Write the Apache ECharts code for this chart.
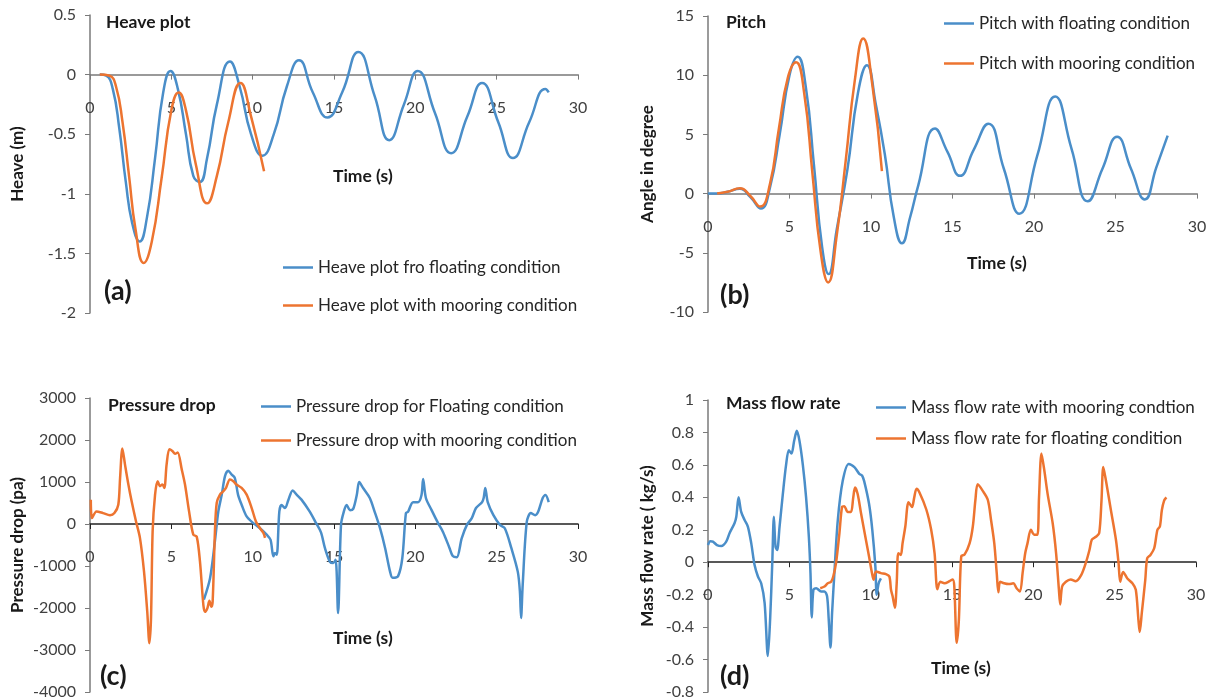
<!DOCTYPE html>
<html>
<head>
<meta charset="utf-8">
<script src="https://cdn.jsdelivr.net/npm/echarts@6/dist/echarts.min.js"></script>
<style>
  html, body { margin: 0; padding: 0; background: #fff; }
  #chart { width: 1215px; height: 700px; }
</style>
</head>
<body>
<div id="chart"></div>
<script>
// time axis ticks shared by all four panels
var timeTicks = [0, 5, 10, 15, 20, 25, 30]

// (a) heave, [time s, heave m]
var heaveFloating = [[0.6, 0], [1.0, -0.01], [1.4, -0.12], [1.8, -0.45], [2.2, -0.9], [2.6, -1.25], [3.05, -1.4],
  [3.5, -1.2], [4.0, -0.7], [4.5, -0.15], [4.95, 0.03], [5.4, -0.12], [5.9, -0.5], [6.35, -0.85], [6.75, -0.9],
  [7.2, -0.7], [7.8, -0.25], [8.6, 0.11], [9.2, -0.1], [9.9, -0.5], [10.6, -0.68], [11.3, -0.5], [12.1, -0.1],
  [12.85, 0.12], [13.7, -0.15], [14.6, -0.36], [15.5, -0.15], [16.5, 0.19], [17.5, -0.18], [18.4, -0.55],
  [19.3, -0.25], [20.15, 0.03], [21.2, -0.32], [22.2, -0.66], [23.2, -0.35], [24.1, -0.07], [25.1, -0.4],
  [26.0, -0.7], [27.0, -0.4], [28.0, -0.12], [28.2, -0.15]]
var heaveMooring = [[0.6, 0], [1.2, -0.01], [1.6, -0.1], [2.0, -0.4], [2.4, -0.85], [2.8, -1.3], [3.3, -1.58],
  [3.8, -1.4], [4.4, -0.87], [5.0, -0.3], [5.45, -0.15], [5.9, -0.3], [6.5, -0.75], [7.2, -1.08], [7.8, -0.85],
  [8.5, -0.4], [9.25, -0.07], [9.9, -0.35], [10.7, -0.81]]

// (b) pitch, [time s, angle deg]
var pitchFloating = [[0, 0], [0.55, 0], [1.2, 0.15], [1.96, 0.4], [2.6, -0.3], [3.25, -1.26], [3.8, 0.5],
  [4.4, 5], [5.0, 10], [5.5, 11.55], [6.0, 9], [6.5, 2.4], [7.0, -4.5], [7.4, -6.8], [7.9, -3], [8.55, 2],
  [9.2, 8.5], [9.75, 10.85], [10.3, 7.5], [10.85, 3.3], [11.4, -2], [11.9, -4.2], [12.4, -2], [12.9, 0.7],
  [13.93, 5.5], [14.7, 3.5], [15.46, 1.5], [16.3, 3.7], [17.2, 5.9], [18.15, 2.1], [19.1, -1.7], [20.2, 3.2],
  [21.3, 8.2], [22.3, 3.8], [23.3, -0.65], [24.2, 2.1], [25.1, 4.8], [25.95, 2.1], [26.8, -0.5], [27.5, 2.2],
  [28.2, 4.9]]
var pitchMooring = [[0.56, 0], [1.2, 0.15], [1.96, 0.45], [2.6, -0.2], [3.2, -1.1], [3.8, 0.8], [4.35, 5.5],
  [4.9, 9.8], [5.4, 11.1], [5.9, 8.5], [6.4, 1.8], [6.9, -4.8], [7.37, -7.5], [7.9, -3.5], [8.45, 2.8],
  [9.0, 9.5], [9.52, 13.1], [10.1, 9.0], [10.67, 1.9]]

// (c) pressure drop, [time s, pa]
var pressureFloating = [[7.0, -1800], [7.38, -1290], [7.68, -410], [7.89, 300], [8.1, 700], [8.3, 1140],
  [8.5, 1270], [8.7, 1180], [8.9, 1100], [9.1, 700], [9.32, 460], [9.63, 180], [10.04, 20], [10.45, -100],
  [10.86, -255], [11.1, -375], [11.27, -770], [11.37, -690], [11.48, -730], [11.64, 300], [11.78, 450],
  [11.99, 380], [12.2, 580], [12.46, 800], [12.7, 700], [13.0, 580], [13.5, 300], [13.9, 20], [14.2, -200],
  [14.44, -570], [14.75, -900], [14.95, -930], [15.1, -850], [15.25, -2120], [15.43, -20], [15.6, 290],
  [15.78, 450], [15.98, 330], [16.18, 360], [16.4, 690], [16.55, 1000], [16.8, 850], [17.2, 620], [17.5, 290],
  [17.83, -100], [18.14, -570], [18.45, -1140], [18.6, -1280], [18.94, -1240], [19.2, -810], [19.42, 260],
  [19.55, 290], [19.86, 520], [20.17, 520], [20.38, 690], [20.48, 1070], [20.65, 620], [21.0, 330],
  [21.4, 20], [21.7, -190], [22.1, -570], [22.3, -760], [22.55, -790], [22.85, -340], [23.17, -20],
  [23.47, 140], [23.73, 380], [24.1, 520], [24.2, 620], [24.3, 860], [24.45, 520], [24.8, 210], [25.2, -20],
  [25.5, -100], [25.9, -570], [26.3, -1140], [26.43, -1620], [26.5, -2240], [26.6, -1450], [26.85, 50],
  [27.1, 260], [27.37, 210], [27.55, 290], [27.83, 620], [28.0, 690], [28.2, 520]]
var pressureMooring = [[0.05, 580], [0.12, 140], [0.4, 300], [0.8, 260], [1.23, 210], [1.5, 260], [1.74, 460],
  [1.85, 1100], [1.99, 1800], [2.15, 1420], [2.36, 940], [2.56, 540], [2.83, 60], [3.07, -330], [3.32, -1130],
  [3.52, -2090], [3.65, -2840], [3.75, -2250], [3.85, -180], [4.0, 700], [4.16, 1020], [4.3, 900], [4.45, 940],
  [4.57, 860], [4.71, 1420], [4.88, 1780], [5.06, 1740], [5.23, 1670], [5.39, 1700], [5.64, 1300],
  [5.84, 940], [6.09, 300], [6.35, -255], [6.56, -300], [6.76, -890], [6.97, -1930], [7.07, -2090],
  [7.21, -2010], [7.34, -1830], [7.46, -1970], [7.54, -1850], [7.68, -180], [7.79, 500], [7.99, 700],
  [8.2, 780], [8.36, 860], [8.6, 1060], [8.81, 1020], [9.0, 940], [9.32, 860], [9.63, 700], [9.94, 380],
  [10.2, 60], [10.45, -100], [10.66, -215], [10.76, -330]]

// (d) mass flow rate, [time s, kg/s]
var massMooring = [[0, 0.106], [0.14, 0.13], [0.3, 0.127], [0.55, 0.106], [0.82, 0.1], [1.12, 0.127],
  [1.33, 0.18], [1.63, 0.24], [1.74, 0.28], [1.88, 0.40], [2.04, 0.31], [2.25, 0.26], [2.45, 0.22],
  [2.66, 0.116], [2.86, -0.016], [3.07, -0.088], [3.27, -0.13], [3.48, -0.25], [3.68, -0.578], [3.82, -0.35],
  [3.95, -0.006], [4.05, 0.28], [4.15, 0.096], [4.25, 0.075], [4.4, 0.22], [4.6, 0.42], [4.8, 0.6],
  [4.97, 0.69], [5.13, 0.67], [5.3, 0.75], [5.46, 0.81], [5.62, 0.75], [5.83, 0.6], [6.03, 0.40],
  [6.2, 0.157], [6.3, -0.067], [6.38, -0.34], [6.48, -0.17], [6.65, -0.16], [6.95, -0.18], [7.16, -0.18],
  [7.32, -0.21], [7.42, -0.35], [7.53, -0.526], [7.63, -0.31], [7.77, -0.067], [7.98, 0.26], [8.28, 0.50],
  [8.65, 0.606], [9.0, 0.586], [9.3, 0.545], [9.47, 0.535], [9.6, 0.50], [9.9, 0.36], [10.1, 0.2],
  [10.29, -0.027], [10.37, -0.2], [10.49, -0.13], [10.63, -0.1]]
var massFloating = [[6.9, -0.16], [7.16, -0.15], [7.36, -0.13], [7.57, -0.12], [7.7, -0.088], [7.87, -0.006],
  [8.08, 0.18], [8.24, 0.34], [8.38, 0.345], [8.59, 0.31], [8.79, 0.31], [8.93, 0.40], [9.04, 0.46],
  [9.2, 0.42], [9.41, 0.30], [9.71, 0.137], [9.9, 0.035], [10.08, -0.067], [10.18, -0.108], [10.33, -0.057],
  [10.63, -0.067], [10.94, -0.073], [11.15, -0.088], [11.25, -0.17], [11.35, -0.21], [11.49, -0.28],
  [11.6, -0.13], [11.7, 0.055], [11.85, 0.045], [11.96, 0.116], [12.13, 0.22], [12.33, 0.37], [12.54, 0.34],
  [12.68, 0.40], [12.82, 0.453], [13.0, 0.43], [13.42, 0.325], [13.72, 0.20], [13.93, 0.055], [14.1, -0.166],
  [14.28, -0.12], [14.54, -0.13], [14.85, -0.117], [15.04, -0.106], [15.14, -0.147], [15.29, -0.497],
  [15.42, -0.36], [15.57, 0.037], [15.77, 0.047], [16.08, 0.116], [16.28, 0.22], [16.44, 0.385], [16.58, 0.48],
  [16.89, 0.44], [17.2, 0.385], [17.4, 0.26], [17.6, 0.116], [17.75, -0.067], [17.85, -0.185], [17.96, -0.12],
  [18.2, -0.13], [18.5, -0.135], [18.77, -0.13], [18.97, -0.16], [19.18, -0.18], [19.34, -0.067], [19.5, 0.055],
  [19.64, 0.116], [19.85, 0.2], [20.05, 0.17], [20.25, 0.17], [20.35, 0.40], [20.5, 0.67], [20.67, 0.57],
  [20.88, 0.42], [21.19, 0.24], [21.4, 0.055], [21.57, -0.166], [21.65, -0.26], [21.77, -0.15], [22.0, -0.12],
  [22.3, -0.106], [22.6, -0.117], [22.94, -0.08], [23.24, 0.0], [23.45, 0.075], [23.6, 0.14], [23.85, 0.157],
  [24.05, 0.18], [24.19, 0.38], [24.3, 0.587], [24.46, 0.505], [24.77, 0.32], [25.08, 0.137], [25.24, -0.006],
  [25.34, -0.12], [25.52, -0.06], [25.78, -0.1], [26.09, -0.13], [26.3, -0.17], [26.46, -0.355], [26.54, -0.43],
  [26.67, -0.31], [26.88, -0.11], [27.0, 0.025], [27.2, 0.045], [27.43, 0.086], [27.63, 0.2], [27.78, 0.22],
  [27.9, 0.32], [28.04, 0.38], [28.18, 0.40]]

var blue = '#4a8ec9'
var orange = '#ed7430'
var font = 'Lato'

var grids = [
  { left: 90, top: 15, width: 488, height: 298 },
  { left: 708, top: 16, width: 489, height: 296 },
  { left: 90, top: 398, width: 488, height: 294 },
  { left: 708, top: 400, width: 488, height: 292 }
]

var yRanges = [
  { min: -2, max: 0.5, interval: 0.5, name: 'Heave (m)', gap: 64 },
  { min: -10, max: 15, interval: 5, name: 'Angle in degree', gap: 52 },
  { min: -4000, max: 3000, interval: 1000, name: 'Pressure drop (pa)', gap: 64 },
  { min: -0.8, max: 1, interval: 0.2, name: 'Mass flow rate ( kg/s)', gap: 52 }
]

function plain (v) {
  return String(Math.round(v * 1000) / 1000)
}

function xAxis (i) {
  var r = yRanges[i]
  // lift the time axis from the grid bottom up to y = 0, labels included
  var lift = -grids[i].height * (0 - r.min) / (r.max - r.min)
  return {
    type: 'value',
    gridIndex: i,
    min: timeTicks[0],
    max: timeTicks[timeTicks.length - 1],
    interval: 5,
    offset: lift,
    axisLine: { onZero: false, lineStyle: { color: i < 2 ? '#7a7a7a' : '#222', width: 1.5 } },
    axisTick: { show: true, length: 5, lineStyle: { color: i < 2 ? '#7a7a7a' : '#222' } },
    axisLabel: { margin: 25, fontSize: 16, color: '#404040', fontFamily: font, formatter: plain },
    splitLine: { show: false }
  }
}

function yAxis (i) {
  var r = yRanges[i]
  return {
    type: 'value',
    gridIndex: i,
    min: r.min,
    max: r.max,
    interval: r.interval,
    name: r.name,
    nameLocation: 'middle',
    nameRotate: 90,
    nameGap: r.gap,
    nameTextStyle: { fontSize: 17, fontWeight: 'bold', color: '#1a1a1a', fontFamily: font },
    axisLine: { show: true, onZero: false, lineStyle: { color: '#7a7a7a', width: 1.5 } },
    axisTick: { show: true, length: 5, lineStyle: { color: '#7a7a7a' } },
    axisLabel: { margin: 14, fontSize: 16, color: '#404040', fontFamily: font, formatter: plain },
    splitLine: { show: false }
  }
}

function line (name, data, color, i, smooth) {
  return {
    name: name,
    type: 'line',
    xAxisIndex: i,
    yAxisIndex: i,
    data: data,
    symbol: 'none',
    smooth: smooth,
    lineStyle: { color: color, width: 2.5 },
    itemStyle: { color: color },
    animation: false
  }
}

function label (text, left, top, size) {
  return {
    text: text,
    left: left,
    top: top,
    padding: 0,
    textStyle: { fontSize: size, fontWeight: 'bold', color: '#1a1a1a', fontFamily: font }
  }
}

function legend (names, left, top, gap) {
  return {
    data: names,
    left: left,
    top: top,
    orient: 'vertical',
    icon: 'rect',
    itemWidth: 30,
    itemHeight: 2.5,
    itemGap: gap,
    padding: 0,
    textStyle: { fontSize: 17, color: '#262626', fontFamily: font }
  }
}

var chart = echarts.init(document.getElementById('chart'))
chart.setOption({
  backgroundColor: '#fff',
  animation: false,
  title: [
    label('Heave plot', 106, 13, 17.5),
    label('(a)', 104, 278, 27),
    label('Time (s)', 333, 167, 17.5),
    label('Pitch', 726, 13, 17.5),
    label('(b)', 720, 282, 27),
    label('Time (s)', 967, 254, 17.5),
    label('Pressure drop', 108, 396, 17.5),
    label('(c)', 100, 663, 27),
    label('Time (s)', 333, 629, 17.5),
    label('Mass flow rate', 726, 394, 17.5),
    label('(d)', 720, 663, 27),
    label('Time (s)', 931, 659, 17.5)
  ],
  legend: [
    legend(['Heave plot fro floating condition', 'Heave plot with mooring condition'], 283, 259, 21),
    legend(['Pitch with floating condition', 'Pitch with mooring condition'], 944, 15, 23),
    legend(['Pressure drop for Floating condition', 'Pressure drop with mooring condition'], 261, 398, 17),
    legend(['Mass flow rate with mooring condtion', 'Mass flow rate for floating condition'], 876, 399, 14)
  ],
  grid: grids,
  xAxis: [xAxis(0), xAxis(1), xAxis(2), xAxis(3)],
  yAxis: [yAxis(0), yAxis(1), yAxis(2), yAxis(3)],
  series: [
    line('Heave plot fro floating condition', heaveFloating, blue, 0, 0.5),
    line('Heave plot with mooring condition', heaveMooring, orange, 0, 0.5),
    line('Pitch with floating condition', pitchFloating, blue, 1, 0.5),
    line('Pitch with mooring condition', pitchMooring, orange, 1, 0.5),
    line('Pressure drop for Floating condition', pressureFloating, blue, 2, 0.3),
    line('Pressure drop with mooring condition', pressureMooring, orange, 2, 0.3),
    line('Mass flow rate with mooring condtion', massMooring, blue, 3, 0.3),
    line('Mass flow rate for floating condition', massFloating, orange, 3, 0.3)
  ]
})
</script>
</body>
</html>
